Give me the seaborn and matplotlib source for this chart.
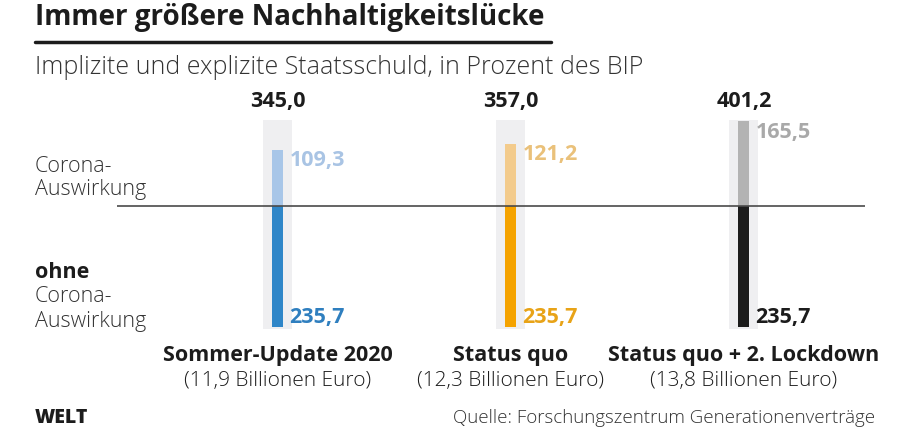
import matplotlib
matplotlib.use("Agg")
import matplotlib.pyplot as plt
import seaborn as sns
import pandas as pd

sns.set_theme(style="white")
plt.rcParams["font.family"] = ["Open Sans", "DejaVu Sans"]

scenarios = ["Sommer-Update 2020", "Status quo", "Status quo + 2. Lockdown"]
costs = ["(11,9 Billionen Euro)", "(12,3 Billionen Euro)", "(13,8 Billionen Euro)"]
ohne_corona = [235.7, 235.7, 235.7]
corona = [109.3, 121.2, 165.5]
total = [345.0, 357.0, 401.2]

dark_cols = ["#2f86c8", "#f5a300", "#1c1c1c"]
light_cols = ["#a8c6e8", "#f3cb8c", "#b3b3b3"]
top_label_cols = ["#a9c4e4", "#eac17a", "#a9a9a9"]
bottom_label_cols = ["#2f7fbf", "#e8a317", "#1c1c1c"]
bg_col = "#efeff1"


def de(v):
    return f"{v:.1f}".replace(".", ",")


W, H = 910, 435
fig = plt.figure(figsize=(W / 100, H / 100), dpi=100)

# axes placed so that 0 sits on the horizontal rule
px_per_unit = 0.513
y0_px = 207
ax_top_px, ax_bot_px = 100, 340
ax = fig.add_axes([117 / W, 1 - ax_bot_px / H, (865 - 117) / W, (ax_bot_px - ax_top_px) / H])

df = pd.DataFrame({"scenario": scenarios, "base": ohne_corona, "corona": corona})
df["down"] = -df["base"]
bg_up = max(corona) + 2
bg_down = max(ohne_corona) + 4
df["bg_up"] = bg_up
df["bg_down"] = -bg_down

# grey background columns
for col in ["bg_up", "bg_down"]:
    sns.barplot(data=df, x="scenario", y=col, order=scenarios, color=bg_col,
                saturation=1, width=0.125, errorbar=None, ax=ax, linewidth=0)
# corona part (up) and base part (down)
sns.barplot(data=df, x="scenario", y="corona", hue="scenario", order=scenarios,
            hue_order=scenarios, palette=light_cols, saturation=1, width=0.046,
            errorbar=None, legend=False, ax=ax, linewidth=0)
sns.barplot(data=df, x="scenario", y="down", hue="scenario", order=scenarios,
            hue_order=scenarios, palette=dark_cols, saturation=1, width=0.046,
            errorbar=None, legend=False, ax=ax, linewidth=0)

ax.axhline(0, color="#4a4a4a", lw=1.2, zorder=5)
ax.set_xlim(-0.69, 2.52)
ax.set_ylim(-(ax_bot_px - y0_px) / px_per_unit, (y0_px - ax_top_px) / px_per_unit)
ax.axis("off")

for i in range(len(scenarios)):
    ax.text(i + 0.05, corona[i] + 1, de(corona[i]), color=top_label_cols[i],
            fontsize=15.5, fontweight="bold", ha="left", va="top")
    ax.text(i + 0.05, -ohne_corona[i] - 1, de(ohne_corona[i]), color=bottom_label_cols[i],
            fontsize=15.5, fontweight="bold", ha="left", va="bottom")
    ax.text(i, bg_up + 17, de(total[i]), color="#1c1c1c",
            fontsize=15.5, fontweight="bold", ha="center", va="bottom")
    ax.text(i, -(356 - y0_px) / px_per_unit, scenarios[i], color="#1c1c1c",
            fontsize=15.5, fontweight="bold", ha="center", va="center")
    ax.text(i, -(381 - y0_px) / px_per_unit, costs[i], color="#1c1c1c",
            fontsize=15, fontweight="light", ha="center", va="center")


def ftext(x, y, s, **kw):
    fig.text(x / W, 1 - y / H, s, **kw)


ftext(35, 18, "Immer größere Nachhaltigkeitslücke", fontsize=20, fontweight="bold",
      color="#1c1c1c", va="center")
fig.add_artist(plt.Line2D([35 / W, 551 / W], [1 - 43 / H, 1 - 43 / H], color="#1c1c1c", lw=2.5))
ftext(35, 68, "Implizite und explizite Staatsschuld, in Prozent des BIP", fontsize=18,
      fontweight="light", color="#333333", va="center")

ftext(35, 166, "Corona-", fontsize=15.5, fontweight="light", color="#333333", va="center")
ftext(35, 190, "Auswirkung", fontsize=15.5, fontweight="light", color="#333333", va="center")
ftext(35, 273, "ohne", fontsize=15.5, fontweight="bold", color="#1c1c1c", va="center")
ftext(35, 297, "Corona-", fontsize=15.5, fontweight="light", color="#333333", va="center")
ftext(35, 322, "Auswirkung", fontsize=15.5, fontweight="light", color="#333333", va="center")

ftext(35, 418, "WELT", fontsize=14, fontweight="heavy", color="#1c1c1c", va="center")
ftext(875, 418, "Quelle: Forschungszentrum Generationenverträge", fontsize=13.5,
      fontweight="light", color="#333333", va="center", ha="right")

fig.savefig("out.png", dpi=100)
